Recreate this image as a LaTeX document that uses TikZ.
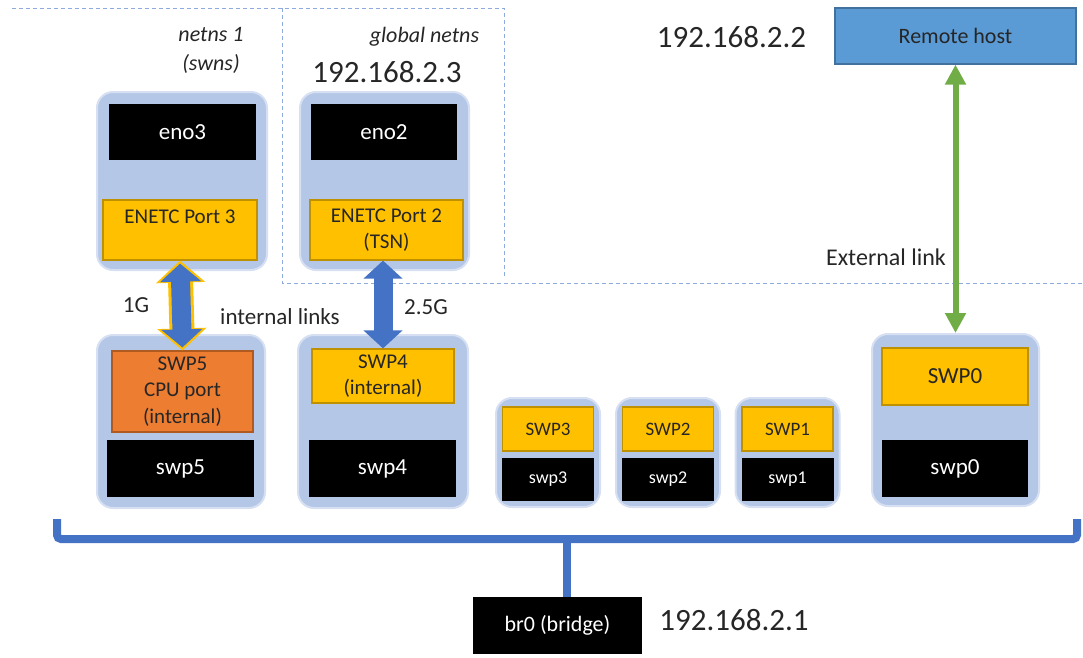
\documentclass[tikz,border=0pt]{standalone}
\usepackage{fontspec}
\setmainfont{Carlito}
\usetikzlibrary{arrows.meta}

\definecolor{swGroup}{RGB}{180,199,231}
\definecolor{swPort}{RGB}{255,192,0}
\definecolor{swPortEdge}{RGB}{191,144,0}
\definecolor{swCpu}{RGB}{237,125,49}
\definecolor{swCpuEdge}{RGB}{174,90,33}
\definecolor{swHost}{RGB}{91,155,213}
\definecolor{swHostEdge}{RGB}{65,113,156}
\definecolor{swLink}{RGB}{68,114,196}
\definecolor{swExt}{RGB}{112,173,71}
\definecolor{swNs}{RGB}{143,170,220}
\definecolor{swText}{RGB}{38,38,38}

\begin{document}
\begin{tikzpicture}[x=1pt, y=-1pt, text=swText,
  grp/.style={fill=swGroup, draw=swGroup!55!white, line width=2pt, rounded corners=16pt, inner sep=0pt},
  ifc/.style={fill=black, text=white, inner sep=0pt, font=\fontsize{23}{27}\selectfont},
  port/.style={fill=swPort, draw=swPortEdge, line width=1.2pt, inner sep=0pt, align=center, font=\fontsize{21}{26.5}\selectfont},
  lbl/.style={font=\fontsize{23}{29}\selectfont, inner sep=0pt, align=center},
  addr/.style={font=\fontsize{31}{35}\selectfont, inner sep=0pt},
  nsline/.style={draw=swNs, dash pattern=on 4pt off 3pt, line width=1pt},
  bus/.style={draw=swLink, line width=8pt, rounded corners=4pt}]

  \useasboundingbox (0,0) rectangle (1083,657);

  % ---- namespaces ----
  \draw[nsline] (12,8) -- (504,8) -- (504,277);
  \draw[nsline] (282,8) -- (282,283) -- (1083,283);

  % ---- ENETC side ----
  \node[grp, minimum width=170, minimum height=178] (eno3grp) at (182,181) {};
  \node[ifc, minimum width=147, minimum height=56] (eno3) at (182.5,132) {eno3};
  \node[port, minimum width=154, minimum height=60] (enetc3) at (180,230) {ENETC Port 3\\~};
  \node[grp, minimum width=169, minimum height=178] (eno2grp) at (384.5,181) {};
  \node[ifc, minimum width=146, minimum height=56] (eno2) at (384,132) {eno2};
  \node[port, minimum width=153, minimum height=60] (enetc2) at (386.5,230) {ENETC Port 2\\(TSN)};

  % ---- switch ports ----
  \node[grp, minimum width=168, minimum height=173] (swp5grp) at (181,421.5) {};
  \node[port, fill=swCpu, draw=swCpuEdge, minimum width=141, minimum height=81] (cpu5) at (182.5,391.5) {SWP5\\CPU port\\(internal)};
  \node[ifc, minimum width=147, minimum height=57] (swp5) at (180.5,468.5) {swp5};
  \node[grp, minimum width=170, minimum height=173] (swp4grp) at (383,421.5) {};
  \node[port, minimum width=142, minimum height=54] (port4) at (383,376) {SWP4\\(internal)};
  \node[ifc, minimum width=147, minimum height=57] (swp4) at (382.5,468.5) {swp4};
  \foreach \i/\x in {3/548, 2/668, 1/787.5} {
    \node[grp, minimum width=104, minimum height=109] (swp\i grp) at (\x,452.5) {};
    \node[port, font=\fontsize{19}{23}\selectfont, minimum width=91, minimum height=44] (port\i) at (\x,429) {SWP\i};
    \node[ifc, font=\fontsize{18}{22}\selectfont, minimum width=92, minimum height=43] (swp\i) at (\x,479.5) {swp\i};
  }
  \node[grp, minimum width=167, minimum height=172] (swp0grp) at (955.5,420) {};
  \node[port, font=\fontsize{23}{27}\selectfont, minimum width=146, minimum height=57] (port0) at (955,376.5) {SWP0};
  \node[ifc, minimum width=146, minimum height=57] (swp0) at (955,468.5) {swp0};

  % ---- remote host and bridge ----
  \node[fill=swHost, draw=swHostEdge, line width=1.2pt, minimum width=241, minimum height=56,
        font=\fontsize{22}{26}\selectfont] (remote) at (955.5,36) {Remote host};
  \node[ifc, font=\fontsize{22}{26}\selectfont, minimum width=169, minimum height=57] (br0) at (557.5,625.5) {br0 (bridge)};

  % ---- links ----
  \draw[swPort, line width=25pt, {Triangle[width=48pt,length=22pt]}-{Triangle[width=48pt,length=22pt]}]
    (enetc3.south) -- (cpu5.north);
  \draw[swLink, line width=19pt, shorten <=3pt, shorten >=3pt,
        {Triangle[width=40pt,length=18pt]}-{Triangle[width=40pt,length=18pt]}]
    (enetc3.south) -- (cpu5.north);
  \draw[swLink, line width=19pt, {Triangle[width=38pt,length=18pt]}-{Triangle[width=38pt,length=18pt]}]
    (port4.north |- enetc2.south) -- (port4.north);
  \draw[swExt, line width=6pt, {Triangle[width=20pt,length=20pt]}-{Triangle[width=20pt,length=20pt]}]
    (remote.south) -- (swp0grp.north);

  % ---- bridge bus ----
  \coordinate (busL) at (57,519);
  \coordinate (busR) at (1077,519);
  \coordinate (busT) at (567,539);
  \draw[bus] (busL) |- (busT) -| (busR);
  \draw[bus, rounded corners=0pt] (busT) -- (busT |- br0.north);

  % ---- labels ----
  \node[lbl, font=\itshape\fontsize{22}{29}\selectfont] (ns1) at (211,50.5) {netns 1\\(swns)};
  \node[lbl, font=\itshape\fontsize{22}{29}\selectfont] (nsglob) at (424.5,37) {global netns};
  \node[addr] (ip3) at (387,72) {192.168.2.3};
  \node[addr] (ip2) at (731.5,37) {192.168.2.2};
  \node[addr] (ip1) at (734,620) {192.168.2.1};
  \node[lbl, font=\fontsize{24}{29}\selectfont] (extlbl) at (886,257) {External link};
  \node[lbl] (g1lbl) at (136,305) {1G};
  \node[lbl] (intlbl) at (280,317) {internal links};
  \node[lbl] (g25lbl) at (426,307) {2.5G};

\end{tikzpicture}
\end{document}
